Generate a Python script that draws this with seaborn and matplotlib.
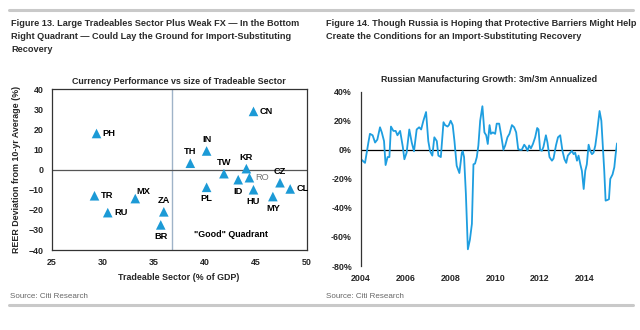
import numpy as np
import pandas as pd
import matplotlib
matplotlib.use("Agg")
import matplotlib.pyplot as plt
from matplotlib.lines import Line2D
from matplotlib.ticker import FuncFormatter
import seaborn as sns

# --- Figure 13: currency performance vs tradeable sector size ---
countries = ["CN", "PH", "IN", "TH", "TW", "KR", "RO", "ID", "CZ",
             "CL", "PL", "HU", "MY", "TR", "MX", "RU", "ZA", "BR"]
tradeable_share = [44.8, 29.4, 40.2, 38.6, 41.9, 44.1, 44.4, 43.3, 47.4,
                   48.4, 40.2, 44.8, 46.7, 29.2, 33.2, 30.5, 36.0, 35.7]
reer_deviation = [29.0, 18.0, 9.3, 3.2, -2.0, 0.5, -4.0, -5.0, -6.5,
                  -9.6, -8.8, -10.0, -13.4, -13.0, -14.4, -21.4, -21.0, -27.5]
label_side = ["r", "r", "a", "a", "a", "a", "r", "b", "a",
              "r", "b", "b", "b", "r", "ar", "r", "a", "b"]
x_ticks_13 = [25, 30, 35, 40, 45, 50]
y_ticks_13 = [40, 30, 20, 10, 0, -10, -20, -30, -40]
quadrant_split = 36.85

# --- Figure 14: Russian manufacturing growth, 3m/3m annualized ---
period = [2004.00, 2004.18, 2004.33, 2004.40, 2004.52, 2004.63, 2004.73, 2004.85,
          2004.93, 2005.03, 2005.10, 2005.19, 2005.27, 2005.34, 2005.45, 2005.55,
          2005.63, 2005.75, 2005.87, 2005.94, 2006.04, 2006.16, 2006.27, 2006.37,
          2006.49, 2006.60, 2006.69, 2006.79, 2006.91, 2007.01, 2007.09, 2007.19,
          2007.28, 2007.39, 2007.46, 2007.57, 2007.69, 2007.76, 2007.87, 2007.93,
          2008.01, 2008.10, 2008.18, 2008.28, 2008.40, 2008.51, 2008.55, 2008.61,
          2008.69, 2008.78, 2008.87, 2008.96, 2009.03, 2009.10, 2009.18, 2009.25,
          2009.33, 2009.43, 2009.52, 2009.60, 2009.67, 2009.75, 2009.81, 2009.90,
          2010.00, 2010.07, 2010.18, 2010.27, 2010.37, 2010.45, 2010.55, 2010.64,
          2010.75, 2010.85, 2010.94, 2011.03, 2011.12, 2011.19, 2011.30, 2011.37,
          2011.45, 2011.52, 2011.60, 2011.69, 2011.79, 2011.88, 2011.94, 2012.01,
          2012.09, 2012.16, 2012.27, 2012.34, 2012.43, 2012.54, 2012.61, 2012.72,
          2012.81, 2012.91, 2013.01, 2013.10, 2013.18, 2013.25, 2013.36, 2013.43,
          2013.51, 2013.58, 2013.66, 2013.73, 2013.81, 2013.88, 2013.96, 2014.03,
          2014.10, 2014.18, 2014.25, 2014.33, 2014.40, 2014.48, 2014.55, 2014.67,
          2014.75, 2014.82, 2014.88, 2014.94, 2015.03, 2015.09, 2015.15, 2015.25,
          2015.33, 2015.39, 2015.45]
growth = [-6.5, -9.0, 5.0, 11.0, 10.0, 5.0, 7.0, 15.5,
          12.0, 6.0, -10.5, -5.0, -5.0, 16.0, 13.0, 13.0,
          10.0, 13.0, 2.0, -6.5, -2.0, 14.0, 5.0, -1.0,
          14.0, 15.5, 14.0, 20.0, 26.0, 6.0, -1.0, -4.0,
          8.6, 6.0, -4.0, -5.0, 19.0, 17.0, 16.0, 17.0,
          20.0, 17.0, 6.0, -11.0, -16.0, -2.0, -1.0, -5.0,
          -30.0, -68.5, -62.0, -51.0, -10.0, -9.5, -5.0, 3.0,
          20.0, 30.0, 12.0, 10.0, 4.0, 17.0, 11.0, 12.0,
          11.0, 18.0, 18.0, 10.0, 0.0, 3.0, 8.6, 11.0,
          17.0, 15.5, 12.0, 0.5, 0.0, 0.0, 3.5, 2.0,
          -0.7, 3.0, 1.0, 4.0, 8.6, 15.0, 14.0, 0.0,
          -0.7, 2.0, 10.0, 5.0, -5.0, -7.5, -6.0, 3.0,
          8.6, 10.0, -0.7, -6.5, -9.0, -4.0, -2.0, -0.7,
          -3.0, -2.0, -7.5, -4.0, -10.0, -14.5, -27.0, -14.5,
          -10.0, 3.5, -0.7, -3.0, -2.0, 3.0, 11.0, 26.7,
          20.0, 1.6, -14.5, -35.0, -34.5, -34.0, -20.0, -17.0,
          -12.0, -3.0, 4.4]
x_ticks_14 = [2004, 2006, 2008, 2010, 2012, 2014]
y_ticks_14 = [40, 20, 0, -20, -40, -60, -80]

scatter_df = pd.DataFrame({"country": countries, "tradeable": tradeable_share,
                           "reer": reer_deviation, "side": label_side})
growth_df = pd.DataFrame({"period": period, "growth": growth})

sns.set_theme(style="white")
plt.rcParams["font.family"] = ["Liberation Sans", "DejaVu Sans"]
plt.rcParams["axes.linewidth"] = 0.9

BLUE = "#1c9ad6"
TXT = "#2b2b2b"
FS = 6.4        # chart text size
FS_HEAD = 6.6   # figure heading size

fig = plt.figure(figsize=(6.4, 3.3), dpi=100)
W, H = 640.0, 330.0


def box(left, top, right, bottom):
    return [left / W, 1 - bottom / H, (right - left) / W, (bottom - top) / H]


# ---------- left panel ----------
ax1 = fig.add_axes(box(51.7, 89.3, 306.5, 250.0))
ax1.axvline(quadrant_split, color="#9fb3c8", lw=1.0, zorder=1)
ax1.axhline(0, color="#555555", lw=0.9, zorder=1)
sns.scatterplot(data=scatter_df, x="tradeable", y="reer", marker="^",
                s=48, color=BLUE, edgecolor="none", ax=ax1, zorder=3,
                legend=False)

offsets = {"r": ((4.5, 0), "left", "center"),
           "a": ((0, 5), "center", "bottom"),
           "b": ((0, -5), "center", "top"),
           "ar": ((1, 2), "left", "bottom")}
for _, row in scatter_df.iterrows():
    (dx, dy), ha, va = offsets[row["side"]]
    grey = row["country"] == "RO"
    ax1.annotate(row["country"], (row["tradeable"], row["reer"]),
                 xytext=(dx, dy), textcoords="offset points", ha=ha, va=va,
                 fontsize=FS + 0.3, fontweight="normal" if grey else "bold",
                 color="#777777" if grey else "black", zorder=4)

ax1.text(42.6, -32.5, "\"Good\" Quadrant", ha="center", va="center",
         fontsize=FS, fontweight="bold", color="black")
ax1.set_xlim(25, 50)
ax1.set_ylim(-40, 40)
ax1.set_xticks(x_ticks_13)
ax1.set_yticks(y_ticks_13)
ax1.set_xlabel("Tradeable Sector (% of GDP)", fontsize=FS, fontweight="bold",
               labelpad=4)
ax1.set_ylabel("REER Deviation from 10-yr Average (%)", fontsize=FS,
               fontweight="bold", labelpad=5)
ax1.set_title("Currency Performance vs size of Tradeable Sector", fontsize=FS,
              fontweight="bold", pad=4)
ax1.tick_params(axis="both", labelsize=FS, length=3, width=0.8, color="#333333",
                direction="out", pad=3)
ax1.tick_params(axis="x", length=0, pad=6)
for lab in ax1.get_xticklabels() + ax1.get_yticklabels():
    lab.set_fontweight("bold")
for sp in ax1.spines.values():
    sp.set_color("#333333")
    sp.set_visible(True)

# ---------- right panel ----------
ax2 = fig.add_axes(box(361.0, 91.7, 617.0, 266.0))
ax2.axhline(0, color="black", lw=0.9, zorder=1)
sns.lineplot(data=growth_df, x="period", y="growth", color="#1e9ee0",
             lw=1.3, ax=ax2, zorder=2)
ax2.set_xlim(2004, 2015.45)
ax2.set_ylim(-80, 40)
ax2.set_xticks(x_ticks_14)
ax2.set_yticks(y_ticks_14)
ax2.yaxis.set_major_formatter(FuncFormatter(lambda v, _: f"{v:.0f}%"))
ax2.set_xlabel("")
ax2.set_ylabel("")
ax2.set_title("Russian Manufacturing Growth: 3m/3m Annualized", fontsize=FS,
              fontweight="bold", pad=7)
ax2.tick_params(axis="y", labelsize=FS, length=3.5, width=0.8, color="#333333",
                direction="out", pad=3)
ax2.tick_params(axis="x", labelsize=FS, length=0, pad=6)
for lab in ax2.get_xticklabels() + ax2.get_yticklabels():
    lab.set_fontweight("bold")
for side in ["top", "right", "bottom"]:
    ax2.spines[side].set_visible(False)
ax2.spines["left"].set_color("#333333")

# ---------- page furniture ----------
for y in (10.0, 305.0):
    fig.add_artist(Line2D([9 / W, 633 / W], [1 - y / H, 1 - y / H],
                          color="#c9c9c9", lw=2.2))

fig.text(11 / W, 1 - 19 / H,
         "Figure 13. Large Tradeables Sector Plus Weak FX \u2014 In the Bottom\n"
         "Right Quadrant \u2014 Could Lay the Ground for Import-Substituting\n"
         "Recovery", ha="left", va="top", fontsize=FS_HEAD, fontweight="bold",
         color=TXT, linespacing=1.58)
fig.text(326.5 / W, 1 - 19 / H,
         "Figure 14. Though Russia is Hoping that Protective Barriers Might Help\n"
         "Create the Conditions for an Import-Substituting Recovery",
         ha="left", va="top", fontsize=FS_HEAD, fontweight="bold", color=TXT,
         linespacing=1.58)
fig.text(10 / W, 1 - 296.5 / H, "Source: Citi Research", ha="left",
         va="center", fontsize=5.8, color="#666666")
fig.text(326 / W, 1 - 296.5 / H, "Source: Citi Research", ha="left",
         va="center", fontsize=5.8, color="#666666")

fig.savefig("out.png", dpi=100)
